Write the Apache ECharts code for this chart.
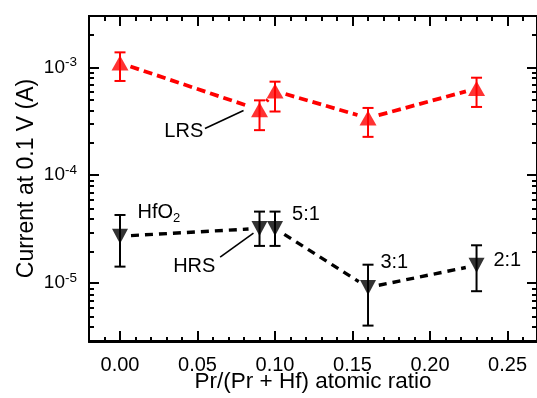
<!DOCTYPE html>
<html>
<head>
<meta charset="utf-8">
<script src="https://cdn.jsdelivr.net/npm/echarts@6/dist/echarts.min.js"></script>
<style>
  html, body { margin: 0; padding: 0; background: #fff; }
  #chart { width: 537px; height: 398px; }
</style>
</head>
<body>
<div id="chart"></div>
<script>
// Pr/(Pr + Hf) atomic ratio of each film
const ratio = [0.00, 0.09, 0.10, 0.16, 0.23];

// Low-resistance state: current at 0.1 V (A), with upper / lower error limits
const lrsCurrent = [1.10e-3, 4.04e-4, 6.05e-4, 3.39e-4, 6.38e-4];
const lrsUpper   = [1.38e-3, 4.95e-4, 7.38e-4, 4.21e-4, 8.03e-4];
const lrsLower   = [7.49e-4, 2.62e-4, 3.90e-4, 2.27e-4, 4.30e-4];

// High-resistance state
const hrsCurrent = [2.72e-5, 3.21e-5, 3.21e-5, 9.1e-6, 1.46e-5];
const hrsUpper   = [4.28e-5, 4.60e-5, 4.60e-5, 1.48e-5, 2.24e-5];
const hrsLower   = [1.42e-5, 2.21e-5, 2.21e-5, 4.03e-6, 8.4e-6];

// Axis ticks
const xMajorTicks = [0.00, 0.05, 0.10, 0.15, 0.20, 0.25];
const xMinorTicks = [-0.01, 0.01, 0.02, 0.03, 0.04, 0.06, 0.07, 0.08, 0.09,
                     0.11, 0.12, 0.13, 0.14, 0.16, 0.17, 0.18, 0.19,
                     0.21, 0.22, 0.23, 0.24, 0.26];
const yMajorTicks = [1e-5, 1e-4, 1e-3];
const yMinorTicks = [3e-6, 4e-6, 5e-6, 6e-6, 7e-6, 8e-6, 9e-6,
                     2e-5, 3e-5, 4e-5, 5e-5, 6e-5, 7e-5, 8e-5, 9e-5,
                     2e-4, 3e-4, 4e-4, 5e-4, 6e-4, 7e-4, 8e-4, 9e-4,
                     2e-3, 3e-3];

// Text notes placed in data coordinates (left edge, vertical middle)
const noteText = ['LRS', 'HRS', 'HfO{sub|2}', '5:1', '3:1', '2:1'];
const noteX    = [0.0286, 0.0343, 0.0113, 0.111, 0.168, 0.2409];
const noteY    = [2.52e-4, 1.41e-5, 4.49e-5, 4.34e-5, 1.55e-5, 1.62e-5];

// Leader lines from the state labels to their points
const leaderFromX = [0.0548, 0.0646];
const leaderFromY = [2.71e-4, 1.74e-5];
const leaderToX   = [0.0797, 0.0861];
const leaderToY   = [3.98e-4, 2.90e-5];

const FONT = '"Liberation Sans", Arial, Helvetica, sans-serif';
const X_MIN = -0.02, X_MAX = 0.269;
const Y_MIN = 2.9e-6, Y_MAX = 3.0e-3;

const chart = echarts.init(document.getElementById('chart'), null, { renderer: 'canvas' });

function xAxisDef(gridIndex, position, ticks, tickLen, withLabels) {
  return {
    type: 'value', gridIndex, position, min: X_MIN, max: X_MAX,
    axisLine: { show: true, onZero: false, lineStyle: { color: '#000', width: 2 } },
    axisTick: { show: true, inside: true, length: tickLen, customValues: ticks,
                lineStyle: { color: '#000', width: 2 } },
    axisLabel: withLabels ? {
      show: true, customValues: xMajorTicks, margin: 14,
      formatter: v => v.toFixed(2), color: '#000', fontSize: 20, fontFamily: FONT
    } : { show: false },
    splitLine: { show: false },
    name: withLabels ? 'Pr/(Pr + Hf) atomic ratio' : '',
    nameLocation: 'middle', nameGap: 29, nameMoveOverlap: false,
    nameTextStyle: { color: '#000', fontSize: 22.5, fontFamily: FONT }
  };
}

function yAxisDef(gridIndex, position, ticks, tickLen, withLabels) {
  return {
    type: 'log', logBase: 10, gridIndex, position, min: Y_MIN, max: Y_MAX,
    axisLine: { show: true, onZero: false, lineStyle: { color: '#000', width: 2 } },
    axisTick: { show: true, inside: true, length: tickLen, customValues: ticks,
                lineStyle: { color: '#000', width: 2 } },
    axisLabel: withLabels ? {
      show: true, customValues: yMajorTicks, margin: 12,
      formatter: v => '{b|10}{s|' + Math.round(Math.log10(v)) + '}',
      rich: {
        b: { fontSize: 19, fontFamily: FONT, color: '#000' },
        s: { fontSize: 13.5, fontFamily: FONT, color: '#000', padding: [0, 0, 10, 0] }
      }
    } : { show: false },
    splitLine: { show: false },
    name: withLabels ? 'Current at 0.1 V (A)' : '',
    nameLocation: 'middle', nameGap: 51, nameMoveOverlap: false,
    nameTextStyle: { color: '#000', fontSize: 23, fontFamily: FONT }
  };
}

// Dashed connector between neighbouring points, stopping short of each symbol
function connector(values, color, width, dash, gap) {
  const data = [];
  for (let i = 0; i < ratio.length - 1; i++) data.push([ratio[i], values[i]]);
  return {
    type: 'custom', xAxisIndex: 0, yAxisIndex: 0, z: 2, silent: true,
    data,
    renderItem(params, api) {
      const i = params.dataIndex;
      const p0 = api.coord([ratio[i], values[i]]);
      const p1 = api.coord([ratio[i + 1], values[i + 1]]);
      const dx = p1[0] - p0[0], dy = p1[1] - p0[1];
      const len = Math.hypot(dx, dy);
      if (len <= 2 * gap + 2) return null;
      const ux = dx / len, uy = dy / len;
      return {
        type: 'line',
        shape: { x1: p0[0] + ux * gap, y1: p0[1] + uy * gap,
                 x2: p1[0] - ux * gap, y2: p1[1] - uy * gap },
        style: { stroke: color, lineWidth: width, lineDash: dash, lineCap: 'butt' }
      };
    }
  };
}

// Vertical error bars with caps
function errorBars(lower, upper, color) {
  const data = ratio.map((x, i) => [x, lower[i], upper[i]]);
  return {
    type: 'custom', xAxisIndex: 0, yAxisIndex: 0, z: 3, silent: true,
    data,
    renderItem(params, api) {
      const top = api.coord([api.value(0), api.value(2)]);
      const bot = api.coord([api.value(0), api.value(1)]);
      const half = 5.5;
      const st = { stroke: color, lineWidth: 2 };
      return {
        type: 'group',
        children: [
          { type: 'line', shape: { x1: top[0], y1: top[1], x2: bot[0], y2: bot[1] }, style: st },
          { type: 'line', shape: { x1: top[0] - half, y1: top[1], x2: top[0] + half, y2: top[1] }, style: st },
          { type: 'line', shape: { x1: bot[0] - half, y1: bot[1], x2: bot[0] + half, y2: bot[1] }, style: st }
        ]
      };
    }
  };
}

const option = {
  animation: false,
  backgroundColor: '#fff',
  textStyle: { fontFamily: FONT },
  grid: [
    { left: 89, right: -4, top: 16, bottom: 56, containLabel: false },
    { left: 89, right: -4, top: 16, bottom: 56, containLabel: false }
  ],
  xAxis: [
    xAxisDef(0, 'bottom', xMajorTicks, 10, true),
    xAxisDef(0, 'top', xMajorTicks, 10, false),
    xAxisDef(1, 'bottom', xMinorTicks, 5, false),
    xAxisDef(1, 'top', xMinorTicks, 5, false)
  ],
  yAxis: [
    yAxisDef(0, 'left', yMajorTicks, 10, true),
    yAxisDef(0, 'right', yMajorTicks, 10, false),
    yAxisDef(1, 'left', yMinorTicks, 5, false),
    yAxisDef(1, 'right', yMinorTicks, 5, false)
  ],
  series: [
    connector(lrsCurrent, '#ff0000', 3.8, [9, 5], 11),
    connector(hrsCurrent, '#000000', 3.4, [8, 6], 11),
    errorBars(lrsLower, lrsUpper, '#ff0000'),
    errorBars(hrsLower, hrsUpper, '#000000'),
    {
      name: 'LRS', type: 'scatter', xAxisIndex: 0, yAxisIndex: 0, z: 4,
      symbol: 'triangle', symbolSize: [17, 15],
      itemStyle: { color: '#ff0000' },
      data: ratio.map((x, i) => [x, lrsCurrent[i]])
    },
    {
      name: 'HRS', type: 'scatter', xAxisIndex: 0, yAxisIndex: 0, z: 4,
      symbol: 'triangle', symbolRotate: 180, symbolSize: [16, 15],
      itemStyle: { color: '#000000' },
      data: ratio.map((x, i) => [x, hrsCurrent[i]])
    },
    {
      // leader lines for the state labels
      type: 'custom', xAxisIndex: 0, yAxisIndex: 0, z: 5, silent: true,
      data: leaderFromX.map((x, i) => [x, leaderFromY[i], leaderToX[i], leaderToY[i]]),
      renderItem(params, api) {
        const a = api.coord([api.value(0), api.value(1)]);
        const b = api.coord([api.value(2), api.value(3)]);
        return { type: 'line', shape: { x1: a[0], y1: a[1], x2: b[0], y2: b[1] },
                 style: { stroke: '#000', lineWidth: 1.6 } };
      }
    },
    {
      // text notes
      type: 'custom', xAxisIndex: 0, yAxisIndex: 0, z: 5, silent: true,
      data: noteX.map((x, i) => [x, noteY[i], i]),
      renderItem(params, api) {
        const p = api.coord([api.value(0), api.value(1)]);
        return {
          type: 'text', x: p[0], y: p[1],
          style: {
            text: noteText[params.dataIndex],
            fill: '#000', fontSize: 20, fontFamily: FONT,
            align: 'left', verticalAlign: 'middle',
            rich: {
              sub: { fontSize: 13, fontFamily: FONT, fill: '#000', padding: [12, 0, 0, 0] }
            }
          }
        };
      }
    }
  ]
};

chart.setOption(option);
</script>
</body>
</html>
